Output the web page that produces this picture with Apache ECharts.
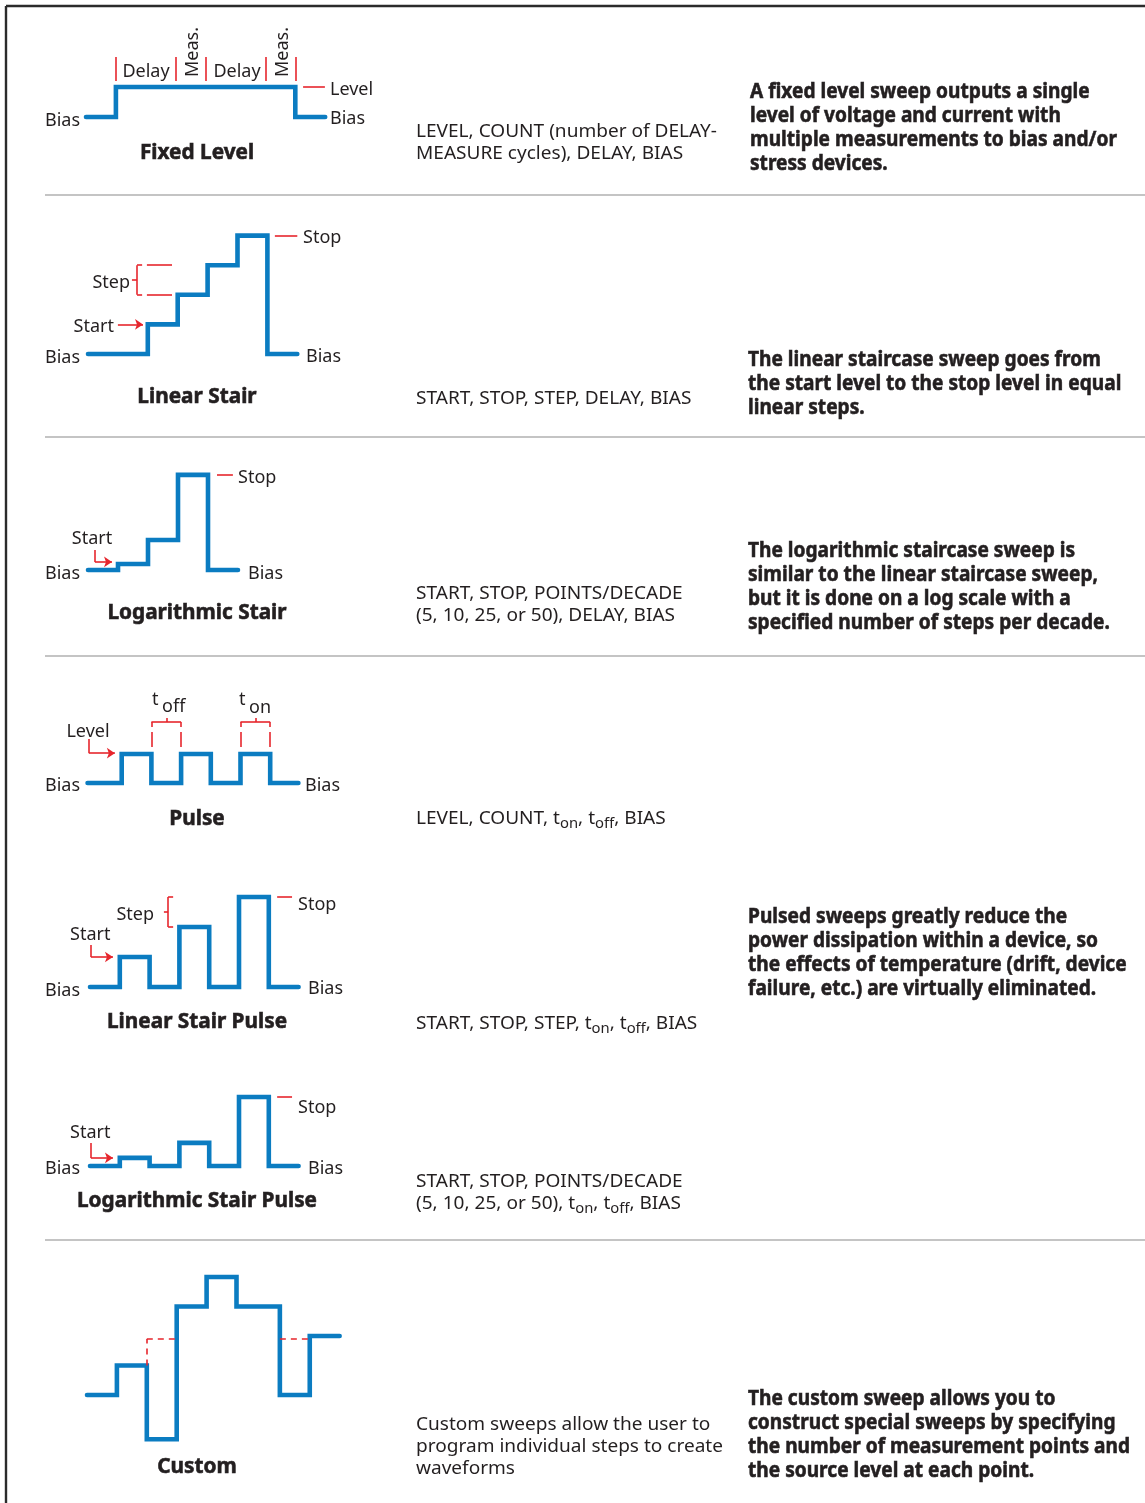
<!DOCTYPE html>
<html><head><meta charset="utf-8">
<script src="https://cdn.jsdelivr.net/npm/echarts@6/dist/echarts.min.js"></script>
<style>html,body{margin:0;padding:0;background:#fff}#c{width:1145px;height:1503px}</style>
</head><body><div id="c"></div><script>
// ---------------- DATA ----------------
const panelTitles = ['Fixed Level','Linear Stair','Logarithmic Stair','Pulse','Linear Stair Pulse','Logarithmic Stair Pulse','Custom'];

// waveforms: [time slot, level]
const fixedLevelWave    = [[0,0],[1,0],[1,1],[7,1],[7,0],[8,0]];
const linearStairWave   = [[0,0],[2,0],[2,1],[3,1],[3,2],[4,2],[4,3],[5,3],[5,4],[6,4],[6,0],[7,0]];
const logStairWave      = [[0,0],[1,0],[1,0.2],[2,0.2],[2,1],[3,1],[3,3.17],[4,3.17],[4,0],[5,0]];
const pulseWave         = [[-0.15,0],[1,0],[1,1],[2,1],[2,0],[3,0],[3,1],[4,1],[4,0],[5,0],[5,1],[6,1],[6,0],[6.95,0]];
const linStairPulseWave = [[0,0],[1,0],[1,1],[2,1],[2,0],[3,0],[3,2],[4,2],[4,0],[5,0],[5,3],[6,3],[6,0],[7,0]];
const logStairPulseWave = [[0,0],[1,0],[1,0.27],[2,0.27],[2,0],[3,0],[3,0.77],[4,0.77],[4,0],[5,0],[5,2.3],[6,2.3],[6,0],[7,0]];
const customWave        = [[0,0],[1,0],[1,1],[2,1],[2,-1.5],[3,-1.5],[3,3],[4,3],[4,4],[5,4],[5,3],[6.45,3],[6.45,0],[7.45,0],[7.45,2],[8.45,2]];

// red annotation segments (same units as the waveforms)
const fixedLevelMarks = [[[1,1.2],[1,2]],[[3,1.2],[3,2]],[[4,1.2],[4,2]],[[6,1.2],[6,2]],[[7,1.2],[7,2]],[[7.26,1],[7.99,1]]];
const linearStairMarks = [[[6.25,4],[7,4]],[[1.64,2],[1.64,3]],[[1.64,3],[1.81,3]],[[1.64,2],[1.81,2]],[[1.47,2.5],[1.64,2.5]],[[1.97,3],[2.81,3]],[[1.97,2],[2.81,2]]];
const linearStairArrows = [[[1.0,1],[1.84,1]]];
const logStairMarks = [[[4.3,3.17],[4.83,3.17]],[[0.23,0.67],[0.23,0.27]]];
const logStairArrows = [[[0.23,0.27],[0.8,0.27]]];
const pulseMarks = [
  [[2,1.93],[2,2.1]],[[2,2.1],[3,2.1]],[[3,2.1],[3,1.93]],[[2.5,2.1],[2.5,2.24]],[[2,1.24],[2,1.76]],[[3,1.24],[3,1.76]],
  [[5,1.93],[5,2.1]],[[5,2.1],[6,2.1]],[[6,2.1],[6,1.93]],[[5.5,2.1],[5.5,2.24]],[[5,1.24],[5,1.76]],[[6,1.24],[6,1.76]],
  [[-0.1,1.52],[-0.1,1.03]]
];
const pulseArrows = [[[-0.1,1.03],[0.77,1.03]]];
const linStairPulseMarks = [[[6.28,3],[6.78,3]],[[2.62,2],[2.62,3]],[[2.62,3],[2.79,3]],[[2.62,2],[2.79,2]],[[2.48,2.5],[2.62,2.5]],[[0.03,1.4],[0.03,1.0]]];
const linStairPulseArrows = [[[0.03,1.0],[0.77,1.0]]];
const logStairPulseMarks = [[[6.28,2.3],[6.78,2.3]],[[0.03,0.77],[0.03,0.27]]];
const logStairPulseArrows = [[[0.03,0.27],[0.77,0.27]]];
const customDashed = [[[2,1],[2,1.9]],[[2,1.9],[3,1.9]],[[6.45,1.9],[7.45,1.9]]];

// texts
const paramLines = [
  ['LEVEL, COUNT (number of DELAY-','MEASURE cycles), DELAY, BIAS'],
  ['START, STOP, STEP, DELAY, BIAS'],
  ['START, STOP, POINTS/DECADE','(5, 10, 25, or 50), DELAY, BIAS'],
  ['LEVEL, COUNT, t{s|on}, t{s|off}, BIAS'],
  ['START, STOP, STEP, t{s|on}, t{s|off}, BIAS'],
  ['START, STOP, POINTS/DECADE','(5, 10, 25, or 50), t{s|on}, t{s|off}, BIAS'],
  ['Custom sweeps allow the user to','program individual steps to create','waveforms']
];
const descLines = [
  ['A fixed level sweep outputs a single','level of voltage and current with','multiple measurements to bias and/or','stress devices.'],
  ['The linear staircase sweep goes from','the start level to the stop level in equal','linear steps.'],
  ['The logarithmic staircase sweep is','similar to the linear staircase sweep,','but it is done on a log scale with a','specified number of steps per decade.'],
  ['Pulsed sweeps greatly reduce the','power dissipation within a device, so','the effects of temperature (drift, device','failure, etc.) are virtually eliminated.'],
  ['The custom sweep allows you to','construct special sweeps by specifying','the number of measurement points and','the source level at each point.']
];

// ---------------- LAYOUT ----------------
const BLUE = '#0b7cc1', RED = '#e6262d', INK = '#231f20';
const FF = '"Noto Sans", "Open Sans", sans-serif';
const DY = 2; // text vertical nudge
const frames = [
  {x0:86, y0:117,  sx:29.9, sy:30,   xr:[-1,9],  yr:[-1,2.6]},
  {x0:88, y0:354,  sx:29.9, sy:29.6, xr:[-1,9],  yr:[-1,4.6]},
  {x0:88, y0:570,  sx:30,   sy:30,   xr:[-1,9],  yr:[-1,3.6]},
  {x0:92, y0:783,  sx:29.7, sy:29,   xr:[-1,9],  yr:[-1,2.6]},
  {x0:90, y0:987,  sx:29.8, sy:30,   xr:[-1,9],  yr:[-1,3.6]},
  {x0:90, y0:1166, sx:29.8, sy:30,   xr:[-1,9],  yr:[-1,2.8]},
  {x0:87, y0:1395, sx:29.9, sy:29.5, xr:[-1,10], yr:[-2,4.6]}
];
const waves = [fixedLevelWave, linearStairWave, logStairWave, pulseWave, linStairPulseWave, logStairPulseWave, customWave];
const solid = [fixedLevelMarks, linearStairMarks, logStairMarks, pulseMarks, linStairPulseMarks, logStairPulseMarks, []];
const arrows = [[], linearStairArrows, logStairArrows, pulseArrows, linStairPulseArrows, logStairPulseArrows, []];
const dashed = [[], [], [], [], [], [], customDashed];

const titleY = [151, 395, 611, 817, 1020, 1199, 1465];
const paramY = [130, 397, 592, 817, 1022, 1180, 1423];
const descY = [90, 358, 549, 915, 1397];
const descX = [750, 748, 748, 748, 748];

const mctx = document.createElement('canvas').getContext('2d');
function fit(font, sample, target){ mctx.font = font; return target / mctx.measureText(sample).width; }
const sTitle = fit('bold 22px ' + FF, 'Logarithmic Stair Pulse', 240);
const sDesc = fit('bold 22px ' + FF, 'the number of measurement points and', 382);
const sParam = fit('18px ' + FF, 'LEVEL, COUNT (number of DELAY-', 301);

const grids = [], xAxes = [], yAxes = [], series = [];
waves.forEach((w, i) => {
  const f = frames[i];
  grids.push({show:false, containLabel:false, outerBoundsMode:'none',
    left: f.x0 + f.xr[0]*f.sx, top: f.y0 - f.yr[1]*f.sy,
    width: (f.xr[1]-f.xr[0])*f.sx, height: (f.yr[1]-f.yr[0])*f.sy});
  xAxes.push({type:'value', gridIndex:i, min:f.xr[0], max:f.xr[1], show:false});
  yAxes.push({type:'value', gridIndex:i, min:f.yr[0], max:f.yr[1], show:false});
  series.push({type:'line', xAxisIndex:i, yAxisIndex:i, data:w, symbol:'none', showSymbol:false, clip:false, z:3,
    lineStyle:{color:BLUE, width:4.6, cap:'round', join:'miter'}, silent:true});
  const mk = (segs, extra) => Object.assign({type:'lines', coordinateSystem:'cartesian2d', xAxisIndex:i, yAxisIndex:i,
    clip:false, silent:true, z:4, symbol:'none', color:RED,
    lineStyle:{color:RED, width:1.6, opacity:1, curveness:0},
    data: segs.map(c => ({coords:c}))}, extra || {});
  if (solid[i].length) series.push(mk(solid[i]));
  if (arrows[i].length) series.push(mk(arrows[i], {symbol:['none','arrow'], symbolSize:8}));
  if (dashed[i].length) series.push(mk(dashed[i], {lineStyle:{color:RED, width:1.6, opacity:1, type:[6,5]}}));
});

// graphic texts and rules
const G = [];
G.push({type:'line', shape:{x1:6, y1:6, x2:1145, y2:6}, style:{stroke:'#2b2b2b', lineWidth:2.4}});
G.push({type:'line', shape:{x1:6, y1:6, x2:6, y2:1503}, style:{stroke:'#2b2b2b', lineWidth:2.4}});
[195, 437, 656, 1240].forEach(y => G.push({type:'line', shape:{x1:45, y1:y, x2:1145, y2:y}, style:{stroke:'#c4c4c4', lineWidth:2}}));

function L(x, y, t, align, extra){
  return Object.assign({type:'text', x, y: y + DY, silent:true,
    style:{text:t, align:align||'left', verticalAlign:'middle', fontFamily:FF, fontSize:18, fill:INK}}, extra||{});
}
// panel labels
[
  [80,119,'Bias','right'],[330,88,'Level'],[330,117,'Bias'],[146,70,'Delay','center'],[237,70,'Delay','center'],
  [303,236,'Stop'],[130,281,'Step','right'],[114,325,'Start','right'],[80,356,'Bias','right'],[306,355,'Bias'],
  [238,476,'Stop'],[92,537,'Start','center'],[80,572,'Bias','right'],[248,572,'Bias'],
  [88,730,'Level','center'],[80,784,'Bias','right'],[305,784,'Bias'],[152,698,'t'],[162,705,'off'],[239,698,'t'],[249,706,'on'],
  [298,903,'Stop'],[154,913,'Step','right'],[70,933,'Start'],[80,989,'Bias','right'],[308,987,'Bias'],
  [298,1106,'Stop'],[70,1131,'Start'],[80,1167,'Bias','right'],[308,1167,'Bias']
].forEach(a => G.push(L(a[0], a[1], a[2], a[3])));
G.push(L(193,50,'Meas.','center',{rotation:Math.PI/2}));
G.push(L(283,50,'Meas.','center',{rotation:Math.PI/2}));

const boldStroke = {stroke:INK, lineWidth:0.6};
panelTitles.forEach((t, i) => G.push({type:'text', x:197, y:titleY[i] + DY, scaleX:sTitle, silent:true,
  style:Object.assign({text:t, align:'center', verticalAlign:'middle', fontFamily:FF, fontSize:22, fontWeight:'bold', fill:INK}, boldStroke)}));

const subRich = {s:{fontFamily:FF, fontSize:14, fill:INK, lineHeight:14, padding:[9,0,0,0], verticalAlign:'bottom'}};
paramLines.forEach((lines, i) => lines.forEach((t, k) => G.push({type:'text', x:416, y:paramY[i] + k*22 + DY, scaleX:sParam, silent:true,
  style:{text:t, align:'left', verticalAlign:'middle', fontFamily:FF, fontSize:18, lineHeight:24, fill:INK, rich:subRich}})));

descLines.forEach((lines, i) => lines.forEach((t, k) => G.push({type:'text', x:descX[i], y:descY[i] + k*24 + DY, scaleX:sDesc, silent:true,
  style:Object.assign({text:t, align:'left', verticalAlign:'middle', fontFamily:FF, fontSize:22, fontWeight:'bold', fill:INK}, boldStroke)})));

const chart = echarts.init(document.getElementById('c'));
chart.setOption({animation:false, backgroundColor:'#fff', grid:grids, xAxis:xAxes, yAxis:yAxes, series, graphic:{elements:G}});
</script></body></html>
